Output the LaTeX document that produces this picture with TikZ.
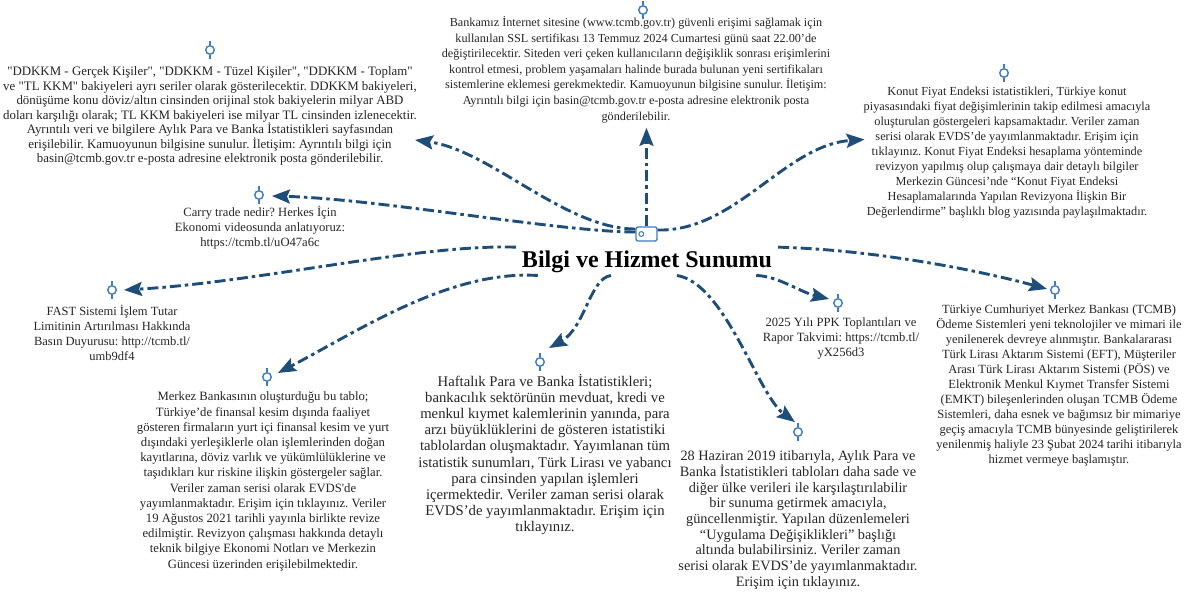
\documentclass[tikz,border=0pt]{standalone}
\usepackage{fontspec}
\setmainfont{Liberation Serif}[Ligatures=TeXOff]
\usetikzlibrary{arrows.meta,calc}
\definecolor{connc}{HTML}{1F4D7A}
\definecolor{mkc}{HTML}{3D7AC4}
\definecolor{txtc}{HTML}{262626}
\newcommand\setfs[2]{\fontsize{#1}{#2}\selectfont}
\begin{document}
\frenchspacing
\begin{tikzpicture}[x=1pt,y=-1pt,
  conn/.style={line width=2.9pt, draw=connc, dash pattern=on 11pt off 4pt on 3.5pt off 4pt,
    -{Stealth[length=18pt,width=14pt,inset=3pt]}},
  mk/.style={circle, draw=mkc, line width=1.4pt, minimum size=8.5pt, inner sep=0pt, fill=white},
  mkline/.style={draw=mkc, line width=1.4pt},
  tb/.style={text=txtc, align=center, inner sep=0pt},
]
\fill[white] (0,0) rectangle (1197,599);
\useasboundingbox (0,0) rectangle (1197,599);

% title and icon
\node[font=\setfs{24}{28}\bfseries, text=black, inner xsep=6pt, inner ysep=3pt, anchor=base] (title) at (647,267) {Bilgi ve Hizmet Sunumu};
\node[draw=mkc, line width=1.3pt, rounded corners=2pt, minimum width=21pt, minimum height=14pt, inner sep=0pt] (icon) at (646.5,234) {};
\draw[mkc, line width=1pt] ([xshift=6pt]icon.west) circle[radius=2.4];

% text blocks
\node[tb, font=\setfs{12.9}{14.5}] (A) at (210,116) {"DDKKM - Gerçek Kişiler", "DDKKM - Tüzel Kişiler", "DDKKM - Toplam"\\
ve "TL KKM" bakiyeleri ayrı seriler olarak gösterilecektir. DDKKM bakiyeleri,\\
dönüşüme konu döviz/altın cinsinden orijinal stok bakiyelerin milyar ABD\\
doları karşılığı olarak; TL KKM bakiyeleri ise milyar TL cinsinden izlenecektir.\\
Ayrıntılı veri ve bilgilere Aylık Para ve Banka İstatistikleri sayfasından\\
erişilebilir. Kamuoyunun bilgisine sunulur. İletişim: Ayrıntılı bilgi için\\
basin@tcmb.gov.tr e-posta adresine elektronik posta gönderilebilir.};

\node[tb, font=\setfs{12.2}{15.6}] (B) at (636,69.5) {Bankamız İnternet sitesine (www.tcmb.gov.tr) güvenli erişimi sağlamak için\\
kullanılan SSL sertifikası 13 Temmuz 2024 Cumartesi günü saat 22.00’de\\
değiştirilecektir. Siteden veri çeken kullanıcıların değişiklik sonrası erişimlerini\\
kontrol etmesi, problem yaşamaları halinde burada bulunan yeni sertifikaları\\
sistemlerine eklemesi gerekmektedir. Kamuoyunun bilgisine sunulur. İletişim:\\
Ayrıntılı bilgi için basin@tcmb.gov.tr e-posta adresine elektronik posta\\
gönderilebilir.};

\node[tb, font=\setfs{12.3}{15.1}] (C) at (1007,152.5) {Konut Fiyat Endeksi istatistikleri, Türkiye konut\\
piyasasındaki fiyat değişimlerinin takip edilmesi amacıyla\\
oluşturulan göstergeleri kapsamaktadır. Veriler zaman\\
serisi olarak EVDS’de yayımlanmaktadır. Erişim için\\
tıklayınız. Konut Fiyat Endeksi hesaplama yönteminde\\
revizyon yapılmış olup çalışmaya dair detaylı bilgiler\\
Merkezin Güncesi’nde “Konut Fiyat Endeksi\\
Hesaplamalarında Yapılan Revizyona İlişkin Bir\\
Değerlendirme” başlıklı blog yazısında paylaşılmaktadır.};

\node[tb, font=\setfs{12.6}{15}] (D) at (260,228) {Carry trade nedir? Herkes İçin\\
Ekonomi videosunda anlatıyoruz:\\
https://tcmb.tl/uO47a6c};

\node[tb, font=\setfs{12.5}{15}] (E) at (112,332.5) {FAST Sistemi İşlem Tutar\\
Limitinin Artırılması Hakkında\\
Basın Duyurusu: http://tcmb.tl/\\
umb9df4};

\node[tb, font=\setfs{12.7}{15.2}] (F) at (263,481.5) {Merkez Bankasının oluşturduğu bu tablo;\\
Türkiye’de finansal kesim dışında faaliyet\\
gösteren firmaların yurt içi finansal kesim ve yurt\\
dışındaki yerleşiklerle olan işlemlerinden doğan\\
kayıtlarına, döviz varlık ve yükümlülüklerine ve\\
taşıdıkları kur riskine ilişkin göstergeler sağlar.\\
Veriler zaman serisi olarak EVDS'de\\
yayımlanmaktadır. Erişim için tıklayınız. Veriler\\
19 Ağustos 2021 tarihli yayınla birlikte revize\\
edilmiştir. Revizyon çalışması hakkında detaylı\\
teknik bilgiye Ekonomi Notları ve Merkezin\\
Güncesi üzerinden erişilebilmektedir.};

\node[tb, font=\setfs{14.7}{16.2}] (G) at (545,454.5) {Haftalık Para ve Banka İstatistikleri;\\
bankacılık sektörünün mevduat, kredi ve\\
menkul kıymet kalemlerinin yanında, para\\
arzı büyüklüklerini de gösteren istatistiki\\
tablolardan oluşmaktadır. Yayımlanan tüm\\
istatistik sunumları, Türk Lirası ve yabancı\\
para cinsinden yapılan işlemleri\\
içermektedir. Veriler zaman serisi olarak\\
EVDS’de yayımlanmaktadır. Erişim için\\
tıklayınız.};

\node[tb, font=\setfs{12.6}{15}] (H) at (841,338) {2025 Yılı PPK Toplantıları ve\\
Rapor Takvimi: https://tcmb.tl/\\
yX256d3};

\node[tb, font=\setfs{12.5}{15}] (I) at (1059,386) {Türkiye Cumhuriyet Merkez Bankası (TCMB)\\
Ödeme Sistemleri yeni teknolojiler ve mimari ile\\
yenilenerek devreye alınmıştır. Bankalararası\\
Türk Lirası Aktarım Sistemi (EFT), Müşteriler\\
Arası Türk Lirası Aktarım Sistemi (PÖS) ve\\
Elektronik Menkul Kıymet Transfer Sistemi\\
(EMKT) bileşenlerinden oluşan TCMB Ödeme\\
Sistemleri, daha esnek ve bağımsız bir mimariye\\
geçiş amacıyla TCMB bünyesinde geliştirilerek\\
yenilenmiş haliyle 23 Şubat 2024 tarihi itibarıyla\\
hizmet vermeye başlamıştır.};

\node[tb, font=\setfs{14.3}{15.7}] (J) at (798,520) {28 Haziran 2019 itibarıyla, Aylık Para ve\\
Banka İstatistikleri tabloları daha sade ve\\
diğer ülke verileri ile karşılaştırılabilir\\
bir sunuma getirmek amacıyla,\\
güncellenmiştir. Yapılan düzenlemeleri\\
“Uygulama Değişiklikleri” başlığı\\
altında bulabilirsiniz. Veriler zaman\\
serisi olarak EVDS’de yayımlanmaktadır.\\
Erişim için tıklayınız.};

% markers
\node[mk] (mA) at (210,50) {};
\node[mk] (mB) at (643,10) {};
\node[mk] (mC) at (1004,73) {};
\node[mk] (mD) at (259,195) {};
\node[mk] (mE) at (112,290) {};
\node[mk] (mF) at (267,377) {};
\node[mk] (mG) at (540,362) {};
\node[mk] (mH) at (838,303) {};
\node[mk] (mI) at (1055,290) {};
\node[mk] (mJ) at (798,432) {};
\foreach \m in {mA,mB,mC,mD,mE,mF,mG,mH,mI,mJ}{
  \draw[mkline] (\m.north) -- ++(0,-4) (\m.south) -- ++(0,4);
}

% connector ends
\coordinate (tA) at ($(A.east)+(-2,24)$);
\coordinate (tB) at ($(icon.north |- B.south)+(0,5)$);
\coordinate (tC) at ($(C.west)+(1,-13)$);
\coordinate (tD) at ($(mD.east)+(8,1)$);
\coordinate (tE) at ($(mE.east)+(7,0)$);
\coordinate (tF) at ($(mF.east)+(6,-4)$);
\coordinate (tG) at ($(mG.north)+(9,-9)$);
\coordinate (tH) at ($(mH.west)+(-4,-4)$);
\coordinate (tI) at ($(mI.west)+(-3,-1)$);
\coordinate (tJ) at ($(mJ.north)+(-3,-5)$);

% connectors
\draw[conn] (icon.north) -- (tB);
\draw[conn] ([yshift=5pt]icon.west) .. controls (565,229) and (490,150) .. (tA);
\draw[conn] ([yshift=2pt]icon.west) .. controls (560,232) and (380,199) .. (tD);
\draw[conn] ([yshift=4pt]icon.east) .. controls (735,232) and (785,145) .. (tC);
\draw[conn] (title.north east) .. controls (880,250) and (985,272) .. (tI);
\draw[conn] ([xshift=-22pt]title.south east) .. controls (778,276) and (800,292) .. (tH);
\draw[conn] ([xshift=30pt]title.south) .. controls (725,283) and (758,395) .. (tJ);
\draw[conn] ([xshift=-36pt]title.south) .. controls (590,278) and (585,328) .. (tG);
\draw[conn] ([xshift=22pt]title.south west) .. controls (450,270) and (360,330) .. (tF);
\draw[conn] (title.north west) .. controls (420,244) and (260,282) .. (tE);
\end{tikzpicture}
\end{document}
